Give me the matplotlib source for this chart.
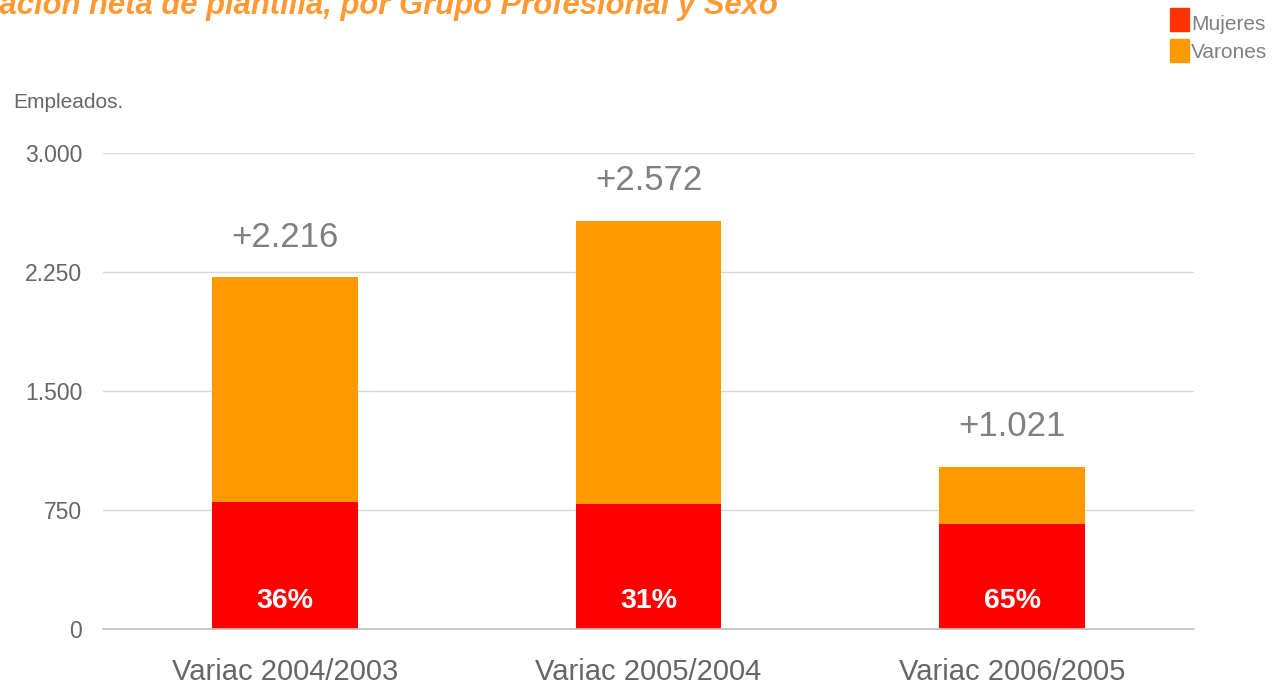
import matplotlib
matplotlib.use("Agg")
import matplotlib.pyplot as plt
from matplotlib.patches import Rectangle

plt.rcParams['font.family'] = ['Liberation Sans', 'DejaVu Sans']

categories = ["Variac 2004/2003", "Variac 2005/2004", "Variac 2006/2005"]
mujeres = [798, 790, 664]
varones = [1418, 1782, 357]
totals = ["+2.216", "+2.572", "+1.021"]
pct_mujeres = ["36%", "31%", "65%"]
yticks = [0, 750, 1500, 2250, 3000]
ytick_labels = ["0", "750", "1.500", "2.250", "3.000"]

RED = "#FF0000"
ORANGE = "#FF9900"
LEG_RED = "#FF3300"
GRAY = "#666666"

fig = plt.figure(figsize=(12.73, 6.84), dpi=100)
ax = fig.add_axes([103/1273, 1-629/684, (1194-103)/1273, (629-153)/684])

x = list(range(len(categories)))
ax.bar(x, mujeres, width=0.4, color=RED, zorder=3)
ax.bar(x, varones, width=0.4, bottom=mujeres, color=ORANGE, zorder=3)

ax.set_xlim(-0.5, 2.5)
ax.set_ylim(0, 3000)
ax.set_yticks(yticks)
ax.set_yticklabels(ytick_labels, fontsize=16.5, color=GRAY)
ax.set_xticks(x)
ax.set_xticklabels(categories, fontsize=21, color=GRAY)
ax.tick_params(axis='y', length=0, pad=15)
ax.tick_params(axis='x', length=0, pad=21)
ax.grid(axis='y', color="#D9D9D9", linewidth=1, zorder=0)
for s in ["top", "right", "left"]:
    ax.spines[s].set_visible(False)
ax.spines["bottom"].set_color("#BFBFBF")
ax.spines["bottom"].set_linewidth(1.2)
ax.spines["bottom"].set_zorder(4)

for i in x:
    top = mujeres[i] + varones[i]
    ax.annotate(totals[i], (i, top), xytext=(0, 29), textcoords="offset points",
                ha="center", va="center", fontsize=25, color="#808080")
    ax.annotate(pct_mujeres[i], (i, 0), xytext=(0, 20), textcoords="offset points",
                ha="center", va="center", fontsize=20.5, fontweight="bold",
                color="white", zorder=5)

# Title (cropped at the left and top edges, as in the reference)
fig.text(-58/1273, 1-14/684, "Variación neta de plantilla, por Grupo Profesional y Sexo",
         fontsize=22.3, fontweight="bold", fontstyle="italic", color="#FF9933",
         ha="left", va="baseline")

fig.text(13/1273, 1-103/684, "Empleados.", fontsize=15, color=GRAY, ha="left", va="center")

# Legend
W, H = 1273, 684
fig.add_artist(Rectangle((1170/W, 1-31/H), 19/W, 23/H, transform=fig.transFigure,
                         color=LEG_RED))
fig.add_artist(Rectangle((1170/W, 1-62/H), 19/W, 23/H, transform=fig.transFigure,
                         color=ORANGE))
fig.text(1191/W, 1-24/H, "Mujeres", fontsize=15, color="#808080", ha="left", va="center")
fig.text(1191/W, 1-53/H, "Varones", fontsize=15, color="#808080", ha="left", va="center")

fig.savefig("out.png", dpi=100)
